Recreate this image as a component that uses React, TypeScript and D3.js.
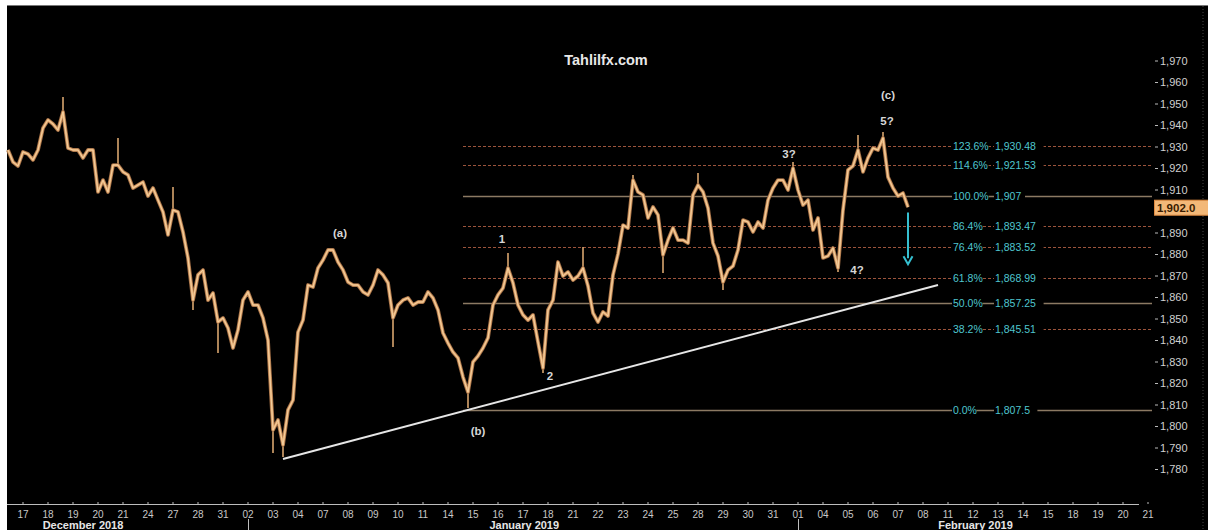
import React from 'react';
import * as d3 from 'd3';

// gold, 4-hourly-ish closes (step = 0.2 trading day)
const startDay = -0.6;
const stepDay = 0.2;
const closes = [
  1928.6, 1923.0, 1921.2, 1927.7, 1926.7, 1924.0, 1928.6, 1938.8, 1942.6, 1940.7,
  1937.9, 1946.3, 1929.5, 1928.6, 1928.6, 1924.9, 1928.6, 1928.6, 1909.1, 1914.6,
  1909.1, 1921.6, 1921.6, 1918.4, 1917.0, 1910.9, 1912.3, 1913.7, 1907.2, 1910.9,
  1905.3, 1899.8, 1889.1, 1900.7, 1899.8, 1890.5, 1878.4, 1858.8, 1870.5, 1872.8,
  1858.8, 1862.1, 1848.6, 1850.5, 1845.8, 1836.5, 1844.9, 1858.8, 1862.6, 1856.5,
  1856.5, 1850.5, 1840.2, 1798.4, 1803.0, 1791.4, 1807.7, 1812.3, 1843.9, 1849.5,
  1865.8, 1864.9, 1873.7, 1877.4, 1882.1, 1882.1, 1876.5, 1872.8, 1867.2, 1865.8,
  1865.8, 1862.6, 1861.2, 1865.8, 1872.8, 1870.5, 1866.8, 1850.5, 1856.5, 1858.8,
  1859.8, 1856.5, 1857.9, 1857.9, 1862.6, 1859.8, 1854.2, 1843.5, 1838.8, 1834.6,
  1831.9, 1823.0, 1816.0, 1830.0, 1832.8, 1836.5, 1841.2, 1856.5, 1861.2, 1864.4,
  1873.7, 1866.8, 1856.5, 1851.9, 1849.5, 1851.9, 1839.3, 1827.2, 1854.2, 1858.8,
  1876.5, 1870.0, 1871.9, 1868.1, 1870.0, 1873.7, 1865.4, 1852.8, 1848.6, 1853.3,
  1851.4, 1870.5, 1880.2, 1893.7, 1892.3, 1914.6, 1909.1, 1907.7, 1897.0, 1902.1,
  1898.4, 1879.8, 1886.7, 1892.3, 1886.7, 1886.7, 1885.3, 1907.7, 1912.3, 1909.1,
  1901.6, 1885.3, 1879.3, 1867.2, 1872.8, 1874.6, 1882.1, 1896.0, 1895.1, 1890.5,
  1895.1, 1892.3, 1905.3, 1910.9, 1914.6, 1914.6, 1910.0, 1920.2, 1910.0, 1903.0,
  1905.3, 1891.4, 1897.0, 1878.4, 1879.3, 1883.0, 1873.7, 1900.7, 1919.3, 1921.2,
  1928.6, 1918.4, 1924.9, 1929.5, 1928.6, 1934.2, 1916.0, 1910.9, 1907.2, 1908.6,
  1902.0,
];

// [bar index, extreme price] for the visible spikes
const wicks: [number, number][] = [
  [11, 1953.3], [22, 1934.2], [33, 1911.4], [37, 1854.2], [42, 1834.2],
  [53, 1787.7], [55, 1785.8], [77, 1837.0], [92, 1808.6], [100, 1880.7],
  [107, 1824.9], [115, 1883.5], [125, 1917.0], [131, 1871.4], [138, 1917.9],
  [143, 1863.5], [157, 1923.0], [166, 1871.9], [170, 1935.6], [175, 1937.0],
];

const dayLabels = [
  '17', '18', '19', '20', '21', '24', '27', '28', '31',
  '02', '03', '04', '07', '08', '09', '10', '11', '14', '15', '16', '17', '18',
  '21', '22', '23', '24', '25', '28', '29', '30', '31',
  '01', '04', '05', '06', '07', '08', '11', '12', '13', '14', '15', '18', '19', '20', '21',
];
const monthNames = ['December 2018', 'January 2019', 'February 2019'];
const monthStarts = [0, 9, 31];
const monthCenters = [2.4, 20.05, 38.1];

const fibPct = ['123.6%', '114.6%', '100.0%', '86.4%', '76.4%', '61.8%', '50.0%', '38.2%', '0.0%'];
const fibValues = [1930.48, 1921.53, 1907, 1893.47, 1883.52, 1868.99, 1857.25, 1845.51, 1807.5];
const fibStartDay = 17.6;

const waveLabels = ['(a)', '1', '2', '(b)', '3?', '4?', '5?', '(c)'];
const waveDays = [12.68, 19.16, 21.08, 18.2, 30.64, 33.36, 34.56, 34.6];
const wavePrices = [1890.0, 1887.2, 1823.5, 1797.9, 1926.7, 1872.8, 1942.1, 1954.2];

const trendDays = [10.4, 36.6];
const trendPrices = [1784.9, 1865.8];

const arrowDay = 35.4;
const arrowPrices = [1899.5, 1875.5];

const lastPrice = 1902.0;

const W = 1208;
const H = 530;

export default function App() {
  const x = d3.scaleLinear().domain([0, 45]).range([23, 1148]);
  const y = d3.scaleLinear().domain([1810, 1930]).range([405, 147]);
  // 1,900 sits under the last-price box, so it is not drawn
  const yTicks = d3.range(1780, 1971, 10).filter(t => t !== 1900);
  const fmt = d3.format(',');
  const axisY = 504;
  const plotRight = 1152;

  const line = d3
    .line<number>()
    .x((_, i) => x(startDay + i * stepDay))
    .y(d => y(d));
  const pricePath = line(closes) || '';

  const solid = new Set(['100.0%', '50.0%', '0.0%']);
  const font = '"Liberation Sans", Arial, sans-serif';

  return (
    <div style={{ position: 'absolute', left: 0, top: 0 }}>
      <svg width={W} height={H} style={{ display: 'block', background: '#fff' }}>
        <rect x={7} y={5} width={W - 7} height={H - 5} fill="#000" />
        <line x1={7} x2={W} y1={5.5} y2={5.5} stroke="#777" />
        <line x1={1203} x2={1203} y1={6} y2={H} stroke="#444" strokeDasharray="1,2" />

        {/* fib levels */}
        {fibValues.map((v, i) => {
          const yy = Math.round(y(v)) + 0.5;
          const isSolid = solid.has(fibPct[i]);
          return (
            <g key={fibPct[i]}>
              <line
                x1={x(fibStartDay)}
                x2={plotRight}
                y1={yy}
                y2={yy}
                stroke={isSolid ? '#8c7a63' : '#9c543c'}
                strokeWidth={isSolid ? 1.4 : 1}
                strokeDasharray={isSolid ? undefined : '3,2'}
              />
              <rect x={952} y={yy - 6} width={fibPct[i].length * 6.1} height={12} fill="#000" />
              <rect x={994} y={yy - 6} width={fmt(v).length * 6.2} height={12} fill="#000" />
              <text x={953} y={yy} dy="0.35em" fill="#4fc6cf" fontSize={10.5} fontFamily={font}>
                {fibPct[i]}
              </text>
              <text x={995} y={yy} dy="0.35em" fill="#4fc6cf" fontSize={10.5} fontFamily={font}>
                {fmt(v)}
              </text>
            </g>
          );
        })}

        {/* trend line */}
        <line
          x1={x(trendDays[0])}
          y1={y(trendPrices[0])}
          x2={x(trendDays[1])}
          y2={y(trendPrices[1])}
          stroke="#e6e6e6"
          strokeWidth={2}
        />

        {/* price */}
        {wicks.map(([k, p]) => (
          <line
            key={k}
            x1={x(startDay + k * stepDay)}
            x2={x(startDay + k * stepDay)}
            y1={y(closes[k])}
            y2={y(p)}
            stroke="#d9a56e"
            strokeWidth={1.6}
          />
        ))}
        <path d={pricePath} fill="none" stroke="#9c6b44" strokeWidth={3.8} strokeLinejoin="round" />
        <path d={pricePath} fill="none" stroke="#e3ab72" strokeWidth={2.3} strokeLinejoin="round" />
        <path d={pricePath} fill="none" stroke="#f9d8aa" strokeWidth={0.8} strokeLinejoin="round" />

        {/* arrow */}
        <line
          x1={x(arrowDay)}
          x2={x(arrowDay)}
          y1={y(arrowPrices[0])}
          y2={y(arrowPrices[1]) - 6}
          stroke="#35bfd0"
          strokeWidth={2}
        />
        <path
          d={`M${x(arrowDay) - 4.5},${y(arrowPrices[1]) - 8} L${x(arrowDay)},${y(arrowPrices[1])} L${x(arrowDay) + 4.5},${y(arrowPrices[1]) - 8}`}
          fill="none"
          stroke="#35bfd0"
          strokeWidth={2}
        />

        {/* wave labels */}
        {waveLabels.map((t, i) => (
          <text
            key={t}
            x={x(waveDays[i])}
            y={y(wavePrices[i])}
            dy="0.35em"
            textAnchor="middle"
            fill="#d6d6d6"
            fontSize={11.5}
            fontWeight="bold"
            fontFamily={font}
          >
            {t}
          </text>
        ))}

        <text x={606} y={65} textAnchor="middle" fill="#e8e8e8" fontSize={14.5} fontWeight="bold" fontFamily={font}>
          Tahlilfx.com
        </text>

        {/* right axis */}
        {yTicks.map(t => (
          <g key={t}>
            <line x1={1155} x2={1158} y1={y(t)} y2={y(t)} stroke="#bbb" />
            <text x={1160} y={y(t)} dy="0.35em" fill="#d0d0d0" fontSize={11} fontFamily={font}>
              {fmt(t)}
            </text>
          </g>
        ))}
        <rect x={1154.5} y={y(lastPrice) - 7} width={60} height={15} fill="#f3b878" stroke="#e08a40" />
        <text x={1157} y={y(lastPrice) + 0.5} dy="0.35em" fill="#3a1c00" fontSize={11.5} fontWeight="bold" fontFamily={font}>
          {d3.format(',.1f')(lastPrice)}
        </text>

        {/* bottom axis */}
        <line x1={7} x2={1139} y1={axisY + 0.5} y2={axisY + 0.5} stroke="#bdbdbd" />
        {dayLabels.map((d, i) => (
          <g key={i}>
            <line x1={x(i)} x2={x(i)} y1={axisY - 2} y2={axisY} stroke="#bdbdbd" />
            <text x={x(i)} y={514} dy="0.35em" textAnchor="middle" fill="#c8c8c8" fontSize={10} fontFamily={font}>
              {d}
            </text>
          </g>
        ))}
        {monthStarts.map((s, i) => (
          <g key={monthNames[i]}>
            {i > 0 && <line x1={x(s) + 0.5} x2={x(s) + 0.5} y1={519} y2={H} stroke="#bdbdbd" />}
            <text
              x={x(monthCenters[i])}
              y={525}
              dy="0.35em"
              textAnchor="middle"
              fill="#e6e6e6"
              fontSize={11}
              fontWeight="bold"
              fontFamily={font}
            >
              {monthNames[i]}
            </text>
          </g>
        ))}
      </svg>
    </div>
  );
}
